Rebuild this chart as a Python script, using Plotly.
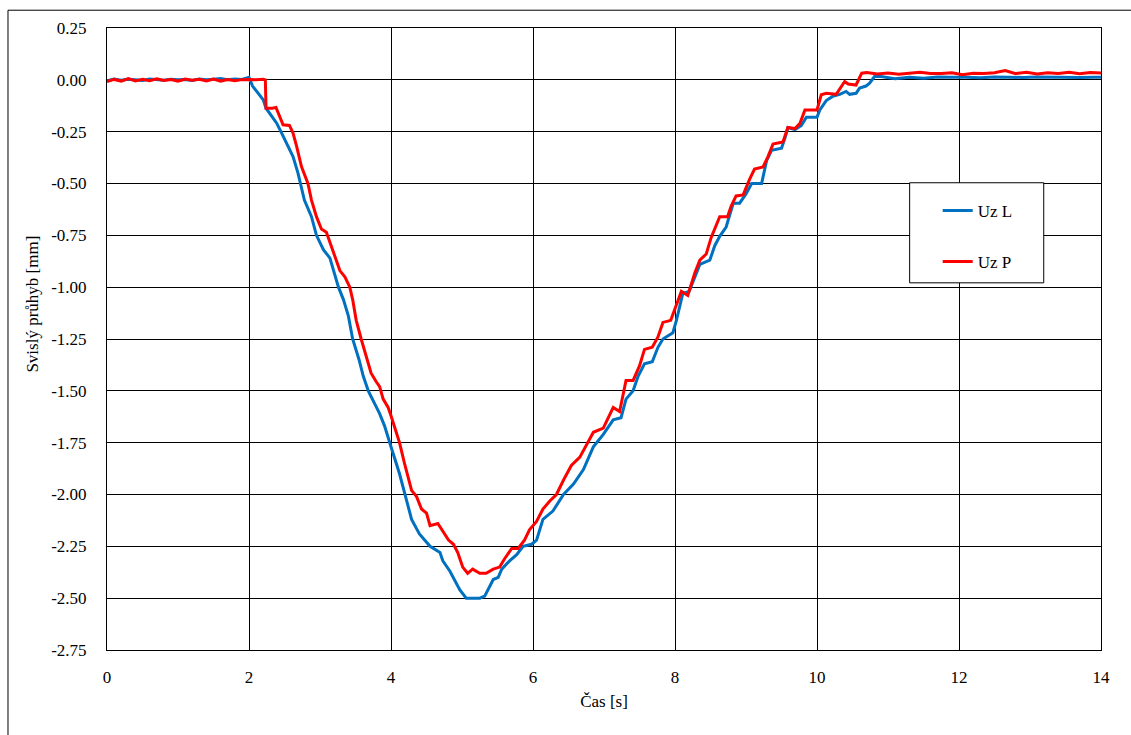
import plotly.graph_objects as go

# ---------------- data ----------------
# Uz L (blue)
uz_l_t_start = [0.0, 0.1, 0.2, 0.3, 0.4, 0.5, 0.6, 0.7, 0.8, 0.9, 1.0, 1.1, 1.2, 1.3, 1.4,
                1.5, 1.6, 1.7, 1.8, 1.9, 2.0]
uz_l_start = [-0.005, 0.004, -0.002, 0.003, 0.000, -0.003, 0.004, 0.001, -0.002, 0.003, 0.000,
              0.002, -0.003, 0.004, 0.000, 0.003, 0.006, 0.001, 0.004, 0.002, 0.012]
uz_l_t_mid = [2.05, 2.13, 2.20, 2.24, 2.32, 2.39, 2.46, 2.53, 2.62, 2.69, 2.78, 2.88, 2.95, 3.05,
              3.14, 3.26, 3.33, 3.40, 3.46, 3.55, 3.61, 3.68, 3.77, 3.84, 3.91, 3.96, 4.00, 4.12,
              4.22, 4.29, 4.40, 4.55, 4.69, 4.73, 4.83, 4.88, 4.97, 5.06, 5.25, 5.32, 5.39, 5.44,
              5.51, 5.56, 5.67, 5.77, 5.86, 5.98, 6.05, 6.14, 6.28, 6.43, 6.57, 6.71, 6.85, 6.99,
              7.13, 7.24, 7.31, 7.41, 7.48, 7.57, 7.68, 7.76, 7.83, 7.97, 8.02, 8.07, 8.11, 8.20,
              8.28, 8.35, 8.49, 8.56, 8.63, 8.72, 8.82, 8.91, 9.00, 9.08, 9.22, 9.29, 9.36, 9.50,
              9.55, 9.59, 9.69, 9.78, 9.85, 10.00, 10.04, 10.13, 10.22, 10.32, 10.41, 10.46, 10.55,
              10.60, 10.69, 10.74, 10.81]
uz_l_mid = [-0.03, -0.064, -0.096, -0.137, -0.177, -0.209, -0.257, -0.305, -0.37, -0.45, -0.58,
            -0.66, -0.75, -0.82, -0.86, -1.00, -1.06, -1.14, -1.25, -1.35, -1.43, -1.50, -1.56,
            -1.61, -1.67, -1.72, -1.77, -1.90, -2.03, -2.12, -2.19, -2.25, -2.28, -2.32, -2.37,
            -2.40, -2.46, -2.50, -2.50, -2.49, -2.44, -2.41, -2.40, -2.36, -2.32, -2.29, -2.25,
            -2.24, -2.22, -2.12, -2.08, -2.00, -1.95, -1.88, -1.77, -1.71, -1.64, -1.63, -1.54,
            -1.50, -1.43, -1.37, -1.36, -1.29, -1.25, -1.22, -1.16, -1.08, -1.03, -1.02, -0.95,
            -0.89, -0.87, -0.80, -0.755, -0.71, -0.595, -0.595, -0.55, -0.50, -0.50, -0.39, -0.34,
            -0.33, -0.28, -0.23, -0.24, -0.22, -0.18, -0.18, -0.145, -0.10, -0.08, -0.07, -0.056,
            -0.07, -0.065, -0.04, -0.03, -0.016, 0.016]
uz_l_t_end = [10.9, 11.1, 11.3, 11.5, 11.7, 11.9, 12.1, 12.3, 12.5, 12.7, 12.9, 13.1, 13.3, 13.5,
              13.7, 13.9, 14.0]
uz_l_end = [0.016, 0.005, 0.013, 0.008, 0.014, 0.012, 0.013, 0.010, 0.014, 0.013, 0.011, 0.014,
            0.012, 0.013, 0.011, 0.013, 0.012]

# Uz P (red)
uz_p_t_start = [0.0, 0.1, 0.2, 0.3, 0.4, 0.5, 0.6, 0.7, 0.8, 0.9, 1.0, 1.1, 1.2, 1.3, 1.4,
                1.5, 1.6, 1.7, 1.8, 1.9, 2.0, 2.1, 2.2, 2.23]
uz_p_start = [-0.008, 0.002, -0.006, 0.006, -0.005, 0.003, -0.004, 0.005, -0.003, 0.002, -0.006,
              0.004, -0.002, 0.003, -0.005, 0.004, -0.006, 0.002, -0.004, 0.001, 0.002, 0.0,
              0.003, 0.0]
uz_p_t_mid = [2.24, 2.33, 2.38, 2.42, 2.48, 2.57, 2.62, 2.67, 2.74, 2.83, 2.88, 2.95, 3.02, 3.09,
              3.18, 3.28, 3.35, 3.42, 3.46, 3.51, 3.58, 3.65, 3.72, 3.79, 3.84, 3.89, 3.96, 4.00,
              4.12, 4.19, 4.29, 4.36, 4.43, 4.50, 4.55, 4.66, 4.76, 4.81, 4.88, 4.94, 5.01, 5.08,
              5.15, 5.25, 5.34, 5.44, 5.53, 5.60, 5.70, 5.79, 5.88, 5.95, 6.05, 6.14, 6.24, 6.33,
              6.43, 6.54, 6.66, 6.77, 6.85, 6.99, 7.08, 7.13, 7.22, 7.31, 7.41, 7.50, 7.57, 7.68,
              7.76, 7.83, 7.94, 8.02, 8.09, 8.18, 8.28, 8.35, 8.44, 8.51, 8.56, 8.63, 8.74, 8.79,
              8.86, 8.96, 9.05, 9.12, 9.24, 9.31, 9.38, 9.52, 9.59, 9.69, 9.76, 9.83, 10.00, 10.06,
              10.13, 10.27, 10.39, 10.44, 10.55, 10.63]
uz_p_mid = [-0.137, -0.137, -0.133, -0.17, -0.217, -0.22, -0.257, -0.32, -0.42, -0.50, -0.58,
            -0.66, -0.72, -0.735, -0.82, -0.92, -0.95, -1.00, -1.06, -1.16, -1.25, -1.33, -1.415,
            -1.455, -1.48, -1.54, -1.58, -1.62, -1.75, -1.85, -1.98, -2.01, -2.07, -2.09, -2.15,
            -2.14, -2.19, -2.22, -2.24, -2.28, -2.35, -2.38, -2.36, -2.38, -2.38, -2.36, -2.35,
            -2.31, -2.26, -2.26, -2.22, -2.17, -2.13, -2.07, -2.03, -2.00, -1.93, -1.86, -1.82,
            -1.75, -1.70, -1.68, -1.62, -1.58, -1.60, -1.45, -1.45, -1.38, -1.30, -1.29, -1.24,
            -1.17, -1.16, -1.09, -1.02, -1.04, -0.93, -0.87, -0.84, -0.76, -0.72, -0.66, -0.66,
            -0.61, -0.56, -0.555, -0.48, -0.43, -0.42, -0.37, -0.31, -0.30, -0.23, -0.235, -0.21,
            -0.145, -0.145, -0.072, -0.065, -0.07, -0.008, -0.02, -0.025, 0.032]
uz_p_t_end = [10.7, 10.85, 11.0, 11.15, 11.3, 11.45, 11.6, 11.75, 11.9, 12.05, 12.2, 12.35, 12.5,
              12.65, 12.8, 12.95, 13.1, 13.25, 13.4, 13.55, 13.7, 13.85, 14.0]
uz_p_end = [0.035, 0.028, 0.033, 0.027, 0.032, 0.036, 0.030, 0.030, 0.034, 0.025, 0.032, 0.030,
            0.034, 0.045, 0.030, 0.036, 0.028, 0.034, 0.030, 0.036, 0.029, 0.035, 0.033]

x_ticks = [0, 2, 4, 6, 8, 10, 12, 14]
y_ticks = [0.25, 0.0, -0.25, -0.5, -0.75, -1.0, -1.25, -1.5, -1.75, -2.0, -2.25, -2.5, -2.75]
y_tick_labels = ["0.25", "0.00", "-0.25", "-0.50", "-0.75", "-1.00", "-1.25", "-1.50",
                 "-1.75", "-2.00", "-2.25", "-2.50", "-2.75"]
series_names = ["Uz L", "Uz P"]
x_title = "Čas [s]"
y_title = "Svislý průhyb [mm]"

# ---------------- figure ----------------
FONT = "Liberation Serif"

fig = go.Figure()
fig.add_trace(go.Scatter(
    x=uz_l_t_start + uz_l_t_mid + uz_l_t_end,
    y=uz_l_start + uz_l_mid + uz_l_end,
    mode="lines", name=series_names[0], legendgroup="a",
    line=dict(color="#0070C0", width=3)))
fig.add_trace(go.Scatter(
    x=uz_p_t_start + uz_p_t_mid + uz_p_t_end,
    y=uz_p_start + uz_p_mid + uz_p_end,
    mode="lines", name=series_names[1], legendgroup="b",
    line=dict(color="#FF0000", width=3)))

fig.update_layout(
    width=1131, height=735,
    margin=dict(l=107, r=30, t=28, b=85),
    paper_bgcolor="white", plot_bgcolor="white",
    font=dict(family=FONT, size=17, color="black"),
    showlegend=True,
    legend=dict(x=0.8357, y=0.735, xanchor="left", yanchor="top",
                bgcolor="rgba(0,0,0,0)", borderwidth=0,
                tracegroupgap=26, traceorder="grouped",
                font=dict(family=FONT, size=17, color="black")),
    shapes=[
        # outer chart border (extends beyond the visible window)
        dict(type="rect", xref="paper", yref="paper",
             x0=-0.0996, x1=1.04, y0=-0.2, y1=1.0286,
             line=dict(color="black", width=1), fillcolor="rgba(0,0,0,0)", layer="below"),
        # legend box
        dict(type="rect", xref="paper", yref="paper",
             x0=0.8075, x1=0.9424, y0=0.5903, y1=0.7512,
             line=dict(color="black", width=1), fillcolor="white", layer="above"),
    ],
    annotations=[
        dict(text=y_title, textangle=-90, xref="paper", yref="paper",
             x=-0.0747, y=0.5565, xanchor="center", yanchor="middle",
             showarrow=False, font=dict(family=FONT, size=17, color="black")),
    ],
)

fig.update_xaxes(
    range=[0, 14], tickvals=x_ticks, ticktext=[str(v) for v in x_ticks],
    showgrid=True, gridcolor="black", gridwidth=1,
    showline=True, linecolor="black", linewidth=1, mirror=True,
    zeroline=False, ticks="", ticklabelstandoff=12,
    title=dict(text=x_title, standoff=8, font=dict(family=FONT, size=17)),
    tickfont=dict(family=FONT, size=17),
)
fig.update_yaxes(
    range=[-2.75, 0.25], tickvals=y_ticks, ticktext=y_tick_labels,
    showgrid=True, gridcolor="black", gridwidth=1,
    showline=True, linecolor="black", linewidth=1, mirror=True,
    zeroline=False, ticks="", ticklabelstandoff=16,
    tickfont=dict(family=FONT, size=17),
)

fig.write_html("out.html")
